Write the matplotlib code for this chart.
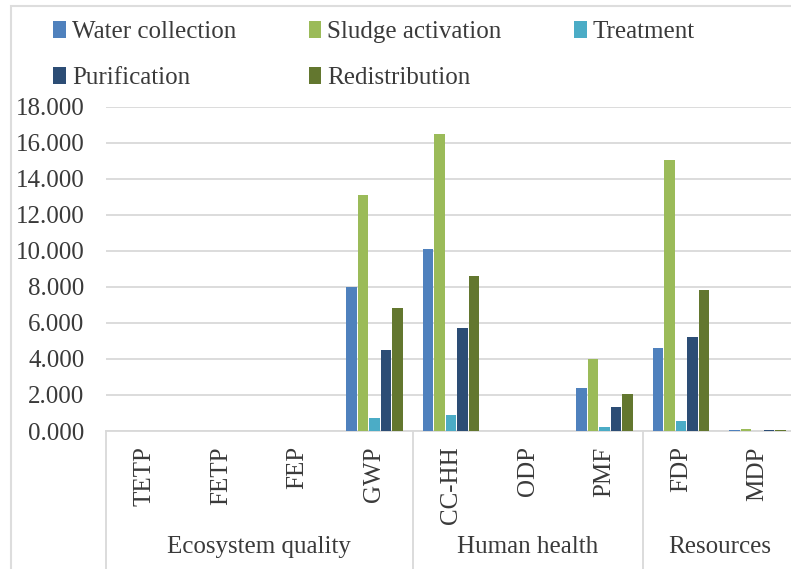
import numpy as np
import matplotlib.pyplot as plt
from matplotlib.patches import Rectangle

plt.rcParams['font.family'] = ['Liberation Serif', 'DejaVu Serif']

categories = ['TETP', 'FETP', 'FEP', 'GWP', 'CC-HH', 'ODP', 'PMF', 'FDP', 'MDP']
groups = ['Ecosystem quality', 'Human health', 'Resources']
group_sizes = [4, 3, 2]

series = ['Water collection', 'Sludge activation', 'Treatment', 'Purification', 'Redistribution']
water_collection = [0, 0, 0, 8.00, 10.10, 0, 2.39, 4.58, 0.05]
sludge_activation = [0, 0, 0, 13.10, 16.50, 0, 3.97, 15.04, 0.10]
treatment = [0, 0, 0, 0.72, 0.91, 0, 0.20, 0.58, 0.01]
purification = [0, 0, 0, 4.52, 5.70, 0, 1.35, 5.19, 0.05]
redistribution = [0, 0, 0, 6.85, 8.63, 0, 2.04, 7.85, 0.05]
values = [water_collection, sludge_activation, treatment, purification, redistribution]
colors = ['#4F81BD', '#9BBB59', '#4BACC6', '#2C4D75', '#63772F']

yticks = [0, 2, 4, 6, 8, 10, 12, 14, 16, 18]

txt = '#3A3A3A'
grid = '#D9D9D9'
fs = 18

W, H = 791, 569
fig = plt.figure(figsize=(W / 100, H / 100), dpi=100)
ax = fig.add_axes([106 / W, 1 - 431 / H, 690 / W, 324.3 / H])

# outer chart frame (cropped at right and bottom)
fig.patches.append(Rectangle((11 / W, -0.2), 1.2, 1.2 - 6 / H, transform=fig.transFigure,
                             fill=False, edgecolor='#DDDDDD', linewidth=1.5))

x = np.arange(len(categories))
pitch = 0.15
bw = 0.135
bars = []
for i, (name, vals, c) in enumerate(zip(series, values, colors)):
    b = ax.bar(x + (i - 2) * pitch, vals, bw, color=c, label=name, zorder=3)
    bars.append(b)

ax.set_xlim(-0.5, len(categories) - 0.5)
ax.set_ylim(0, 18)
ax.set_yticks(yticks)
ax.set_yticklabels(['%.3f' % v for v in yticks], fontsize=fs, color=txt)
ax.tick_params(axis='y', length=0, pad=15.5)
ax.yaxis.grid(True, color=grid, linewidth=1.3, zorder=0)
ax.set_axisbelow(True)

ax.set_xticks(x)
ax.set_xticklabels(categories, rotation=90, fontsize=fs, color=txt, va='top', ha='center')
ax.tick_params(axis='x', length=0, pad=11)

for s in ['top', 'right', 'left']:
    ax.spines[s].set_visible(False)
ax.spines['bottom'].set_color(grid)
ax.spines['bottom'].set_linewidth(1.3)

# multilevel category axis: group dividers and labels
trans = ax.get_xaxis_transform()
edges = np.concatenate([[0], np.cumsum(group_sizes)]) - 0.5
for e in edges[:-1]:
    ax.plot([e, e], [0, -0.45], transform=trans, color=grid, linewidth=1.3, clip_on=False)
for g, a, b in zip(groups, edges[:-1], edges[1:]):
    ax.text((a + b) / 2, -0.358, g, transform=trans, ha='center', va='center',
            fontsize=fs, color=txt)

order = [0, 3, 1, 4, 2]
handles = [bars[i] for i in order]
labels = [series[i] for i in order]
fig.legend(handles, labels, loc='upper left', bbox_to_anchor=(53 / W, 1 - 21 / H),
           ncol=3, frameon=False, fontsize=fs, borderpad=0, borderaxespad=0,
           handlelength=0.5, handleheight=0.65, handletextpad=0.25,
           columnspacing=2.9, labelspacing=0.96, labelcolor=txt)

plt.savefig('out.png', dpi=100)
